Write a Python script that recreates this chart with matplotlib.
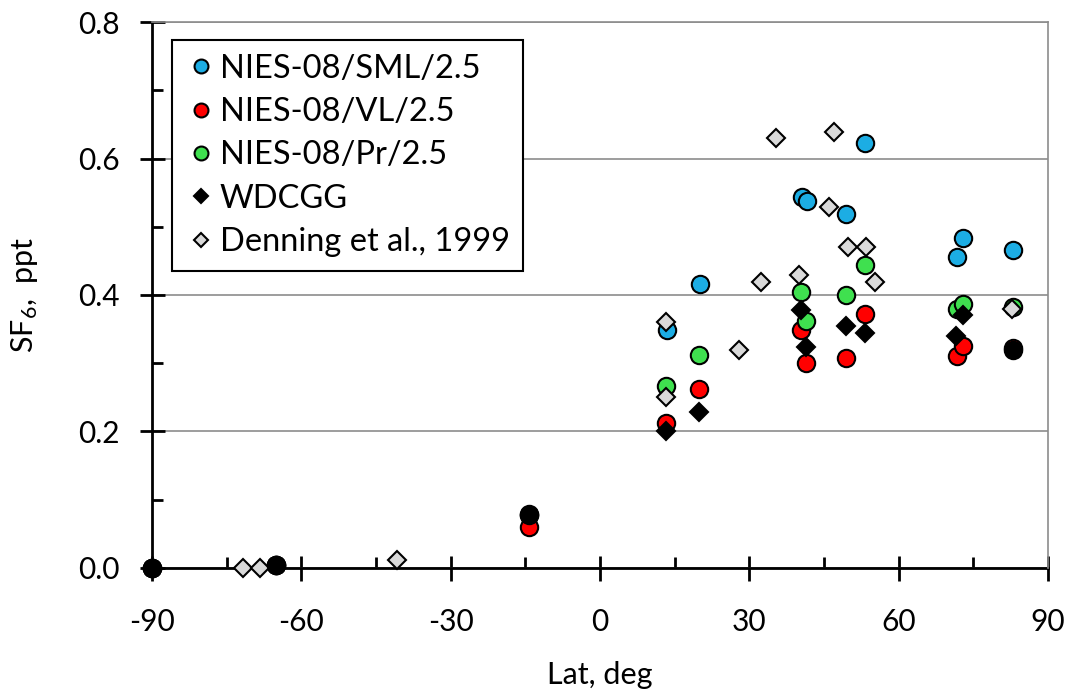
import numpy as np
import matplotlib
matplotlib.use("Agg")
import matplotlib.pyplot as plt
from matplotlib.ticker import MultipleLocator

plt.rcParams['font.family'] = ['Lato', 'DejaVu Sans']
plt.rcParams['axes.unicode_minus'] = False
plt.rcParams['mathtext.default'] = 'regular'

# NIES-08/SML/2.5
sml_lat = [-90, -65, -14.3, 13.5, 20.1, 40.5, 41.6, 49.4, 53.2, 71.8, 73.0, 82.9]
sml_val = [0.0, 0.004, 0.078, 0.349, 0.416, 0.543, 0.538, 0.519, 0.623, 0.456, 0.484, 0.466]

# NIES-08/VL/2.5
vl_lat = [-90, -65, -14.3, 13.3, 19.9, 40.4, 41.3, 49.4, 53.2, 71.8, 73.0, 82.9]
vl_val = [0.0, 0.004, 0.060, 0.213, 0.262, 0.349, 0.300, 0.307, 0.372, 0.311, 0.326, 0.322]

# NIES-08/Pr/2.5
pr_lat = [-90, -65, -14.3, 13.3, 19.9, 40.4, 41.3, 49.4, 53.2, 71.8, 73.0, 82.9]
pr_val = [0.0, 0.004, 0.077, 0.266, 0.312, 0.405, 0.362, 0.400, 0.444, 0.379, 0.387, 0.382]

# WDCGG
wd_lat = [13.3, 19.9, 40.4, 41.3, 49.4, 53.2, 71.5, 73.0]
wd_val = [0.201, 0.229, 0.378, 0.324, 0.355, 0.345, 0.340, 0.371]

# Denning et al., 1999
den_lat = [-71.7, -68.4, -40.7, 13.3, 13.3, 28.0, 32.3, 35.4, 40.0, 46.0, 47.0, 49.9, 53.4, 55.2, 82.7]
den_val = [0.0, 0.0, 0.011, 0.361, 0.251, 0.319, 0.419, 0.630, 0.430, 0.529, 0.639, 0.471, 0.471, 0.419, 0.380]

# black circles (not in legend)
blk_lat = [-90, -65, -14.3, 83.0]
blk_val = [0.0, 0.005, 0.079, 0.319]

fig = plt.figure(figsize=(10.68, 6.92), dpi=100)
ax = fig.add_axes([0.1423, 0.1792, 0.839, 0.789])

ms_o = 12.5
ms_d = 9.0
kw = dict(mec='black', mew=1.5, clip_on=False, linestyle='none')
ax.plot(sml_lat, sml_val, 'o', ms=ms_o, mfc='#1CADE4', label='NIES-08/SML/2.5', zorder=3, **kw)
ax.plot(vl_lat, vl_val, 'o', ms=ms_o, mfc='#FF0000', label='NIES-08/VL/2.5', zorder=3, **kw)
ax.plot(pr_lat, pr_val, 'o', ms=ms_o, mfc='#3FE04F', label='NIES-08/Pr/2.5', zorder=3, **kw)
ax.plot(wd_lat, wd_val, 'D', ms=ms_d, mfc='black', label='WDCGG', zorder=4, **kw)
ax.plot(den_lat, den_val, 'D', ms=ms_d, mfc='#D9D9D9', label='Denning et al., 1999', zorder=4, **kw)
ax.plot(blk_lat, blk_val, 'o', ms=ms_o, mfc='black', zorder=5, **kw)

ax.set_xlim(-90, 90)
ax.set_ylim(0, 0.8)
ax.xaxis.set_major_locator(MultipleLocator(30))
ax.xaxis.set_minor_locator(MultipleLocator(15))
ax.yaxis.set_major_locator(MultipleLocator(0.2))
ax.yaxis.set_minor_locator(MultipleLocator(0.1))
ax.yaxis.set_major_formatter(plt.FuncFormatter(lambda v, p: f'{v:.1f}'))

ax.grid(axis='y', which='major', color='#8C8C8C', lw=1.2, zorder=0)
ax.set_axisbelow(True)

for s in ['left', 'bottom']:
    ax.spines[s].set_linewidth(2)
    ax.spines[s].set_zorder(2)
for s in ['top', 'right']:
    ax.spines[s].set_color('#8C8C8C')
    ax.spines[s].set_linewidth(1.2)

ax.tick_params(which='major', direction='inout', length=18, width=2, labelsize=21.5)
ax.tick_params(axis='x', which='major', pad=20)
ax.tick_params(axis='y', which='major', pad=14)
ax.tick_params(which='minor', direction='in', length=8, width=2)
ax.tick_params(top=False, right=False, which='both')

ax.set_xlabel('Lat, deg', fontsize=22, labelpad=18)
ax.set_ylabel('SF$_6$,  ppt', fontsize=22, labelpad=28)

leg = ax.legend(loc='upper left', bbox_to_anchor=(0.022, 0.967), fontsize=23.5,
                frameon=True, fancybox=False, edgecolor='black', framealpha=1,
                handletextpad=0.1, handlelength=0.95, borderpad=0.42,
                labelspacing=0.41, markerscale=0.8, borderaxespad=0)
leg.get_frame().set_linewidth(1.5)

fig.savefig('out.png', dpi=100)
